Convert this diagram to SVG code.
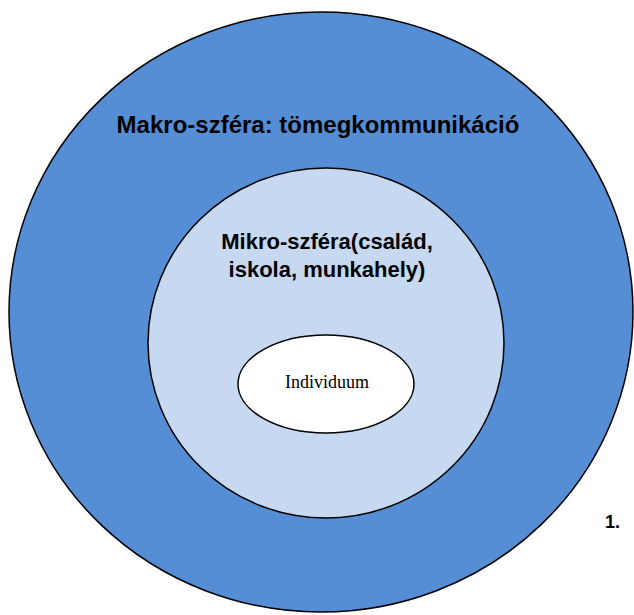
<svg xmlns="http://www.w3.org/2000/svg" width="634" height="615" viewBox="0 0 634 615">
<style>
.sh{stroke:#000;stroke-width:1.5}
.b{font-family:"Liberation Sans",Arial,sans-serif;font-weight:bold;fill:#000}
</style>
<rect width="634" height="615" fill="#fff"/>
<g id="makro">
<ellipse class="sh" cx="321" cy="312" rx="312" ry="300" fill="#558ED5"/>
<text class="b" x="318" y="133" font-size="24" text-anchor="middle">Makro-szféra: tömegkommunikáció</text>
</g>
<g id="mikro">
<ellipse class="sh" cx="326" cy="343" rx="178" ry="175" fill="#C6D9F1"/>
<text class="b" x="327" y="249" font-size="22" text-anchor="middle">Mikro-szféra(család,</text>
<text class="b" x="327" y="277" font-size="22" text-anchor="middle">iskola, munkahely)</text>
</g>
<g id="individuum">
<ellipse class="sh" cx="326" cy="384" rx="88" ry="49" fill="#fff"/>
<text x="327" y="388" font-size="18" text-anchor="middle" font-family="'Liberation Serif','Times New Roman',serif" fill="#000">Individuum</text>
</g>
<text class="b" x="605" y="528" font-size="18">1.</text>
<g id="connectors"/>
</svg>
